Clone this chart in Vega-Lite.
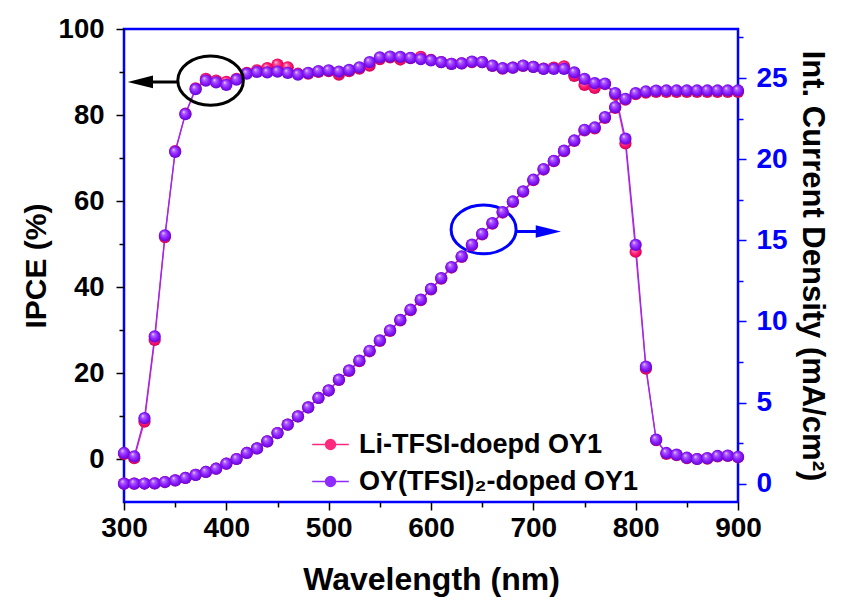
{
  "$schema": "https://vega.github.io/schema/vega-lite/v6.json",
  "width": 614,
  "height": 473,
  "autosize": {"type": "none"},
  "padding": {"left": 124, "top": 29, "right": 103, "bottom": 100},
  "background": "white",
  "config": {
    "font": "Liberation Sans",
    "view": {"stroke": "#0000ff", "strokeWidth": 2.5},
    "axis": {"domain": false, "grid": false, "labelFont": "Liberation Sans", "titleFont": "Liberation Sans", "labelFontWeight": "bold", "titleFontWeight": "bold", "labelColor": "black", "titleColor": "black", "tickColor": "black", "tickWidth": 1.5, "labelOverlap": false}
  },
  "datasets": {
    "main": [
      {"wl":300,"s":"Li-TFSI-doepd OY1","ipce":1.2,"jsc":0.0},
      {"wl":310,"s":"Li-TFSI-doepd OY1","ipce":0.2,"jsc":0.0},
      {"wl":320,"s":"Li-TFSI-doepd OY1","ipce":8.7,"jsc":0.01},
      {"wl":330,"s":"Li-TFSI-doepd OY1","ipce":27.7,"jsc":0.02},
      {"wl":340,"s":"Li-TFSI-doepd OY1","ipce":51.6,"jsc":0.1},
      {"wl":350,"s":"Li-TFSI-doepd OY1","ipce":71.6,"jsc":0.2},
      {"wl":360,"s":"Li-TFSI-doepd OY1","ipce":80.3,"jsc":0.35},
      {"wl":370,"s":"Li-TFSI-doepd OY1","ipce":86.2,"jsc":0.54},
      {"wl":380,"s":"Li-TFSI-doepd OY1","ipce":88.4,"jsc":0.72},
      {"wl":390,"s":"Li-TFSI-doepd OY1","ipce":88.0,"jsc":0.92},
      {"wl":400,"s":"Li-TFSI-doepd OY1","ipce":87.7,"jsc":1.23},
      {"wl":410,"s":"Li-TFSI-doepd OY1","ipce":88.4,"jsc":1.52},
      {"wl":420,"s":"Li-TFSI-doepd OY1","ipce":89.8,"jsc":1.89},
      {"wl":430,"s":"Li-TFSI-doepd OY1","ipce":90.4,"jsc":2.17},
      {"wl":440,"s":"Li-TFSI-doepd OY1","ipce":90.9,"jsc":2.61},
      {"wl":450,"s":"Li-TFSI-doepd OY1","ipce":91.7,"jsc":3.12},
      {"wl":460,"s":"Li-TFSI-doepd OY1","ipce":91.1,"jsc":3.64},
      {"wl":470,"s":"Li-TFSI-doepd OY1","ipce":89.6,"jsc":4.15},
      {"wl":480,"s":"Li-TFSI-doepd OY1","ipce":89.6,"jsc":4.7},
      {"wl":490,"s":"Li-TFSI-doepd OY1","ipce":90.0,"jsc":5.28},
      {"wl":500,"s":"Li-TFSI-doepd OY1","ipce":90.2,"jsc":5.74},
      {"wl":510,"s":"Li-TFSI-doepd OY1","ipce":89.4,"jsc":6.39},
      {"wl":520,"s":"Li-TFSI-doepd OY1","ipce":90.2,"jsc":6.95},
      {"wl":530,"s":"Li-TFSI-doepd OY1","ipce":90.8,"jsc":7.55},
      {"wl":540,"s":"Li-TFSI-doepd OY1","ipce":91.5,"jsc":8.16},
      {"wl":550,"s":"Li-TFSI-doepd OY1","ipce":93.0,"jsc":8.8},
      {"wl":560,"s":"Li-TFSI-doepd OY1","ipce":93.4,"jsc":9.42},
      {"wl":570,"s":"Li-TFSI-doepd OY1","ipce":92.9,"jsc":10.06},
      {"wl":580,"s":"Li-TFSI-doepd OY1","ipce":93.2,"jsc":10.69},
      {"wl":590,"s":"Li-TFSI-doepd OY1","ipce":93.5,"jsc":11.31},
      {"wl":600,"s":"Li-TFSI-doepd OY1","ipce":92.8,"jsc":11.97},
      {"wl":610,"s":"Li-TFSI-doepd OY1","ipce":92.3,"jsc":12.64},
      {"wl":620,"s":"Li-TFSI-doepd OY1","ipce":91.9,"jsc":13.32},
      {"wl":630,"s":"Li-TFSI-doepd OY1","ipce":92.0,"jsc":13.97},
      {"wl":640,"s":"Li-TFSI-doepd OY1","ipce":92.3,"jsc":14.7},
      {"wl":650,"s":"Li-TFSI-doepd OY1","ipce":92.3,"jsc":15.36},
      {"wl":660,"s":"Li-TFSI-doepd OY1","ipce":91.4,"jsc":16.03},
      {"wl":670,"s":"Li-TFSI-doepd OY1","ipce":90.8,"jsc":16.71},
      {"wl":680,"s":"Li-TFSI-doepd OY1","ipce":91.0,"jsc":17.36},
      {"wl":690,"s":"Li-TFSI-doepd OY1","ipce":91.4,"jsc":17.99},
      {"wl":700,"s":"Li-TFSI-doepd OY1","ipce":91.2,"jsc":18.7},
      {"wl":710,"s":"Li-TFSI-doepd OY1","ipce":90.8,"jsc":19.36},
      {"wl":720,"s":"Li-TFSI-doepd OY1","ipce":91.0,"jsc":19.87},
      {"wl":730,"s":"Li-TFSI-doepd OY1","ipce":91.3,"jsc":20.49},
      {"wl":740,"s":"Li-TFSI-doepd OY1","ipce":89.1,"jsc":21.12},
      {"wl":750,"s":"Li-TFSI-doepd OY1","ipce":87.0,"jsc":21.77},
      {"wl":760,"s":"Li-TFSI-doepd OY1","ipce":86.3,"jsc":21.9},
      {"wl":770,"s":"Li-TFSI-doepd OY1","ipce":87.2,"jsc":22.54},
      {"wl":780,"s":"Li-TFSI-doepd OY1","ipce":84.7,"jsc":23.16},
      {"wl":790,"s":"Li-TFSI-doepd OY1","ipce":73.4,"jsc":23.66},
      {"wl":800,"s":"Li-TFSI-doepd OY1","ipce":48.2,"jsc":24.0},
      {"wl":810,"s":"Li-TFSI-doepd OY1","ipce":21.0,"jsc":24.1},
      {"wl":820,"s":"Li-TFSI-doepd OY1","ipce":4.4,"jsc":24.15},
      {"wl":830,"s":"Li-TFSI-doepd OY1","ipce":1.2,"jsc":24.15},
      {"wl":840,"s":"Li-TFSI-doepd OY1","ipce":0.9,"jsc":24.15},
      {"wl":850,"s":"Li-TFSI-doepd OY1","ipce":0.2,"jsc":24.15},
      {"wl":860,"s":"Li-TFSI-doepd OY1","ipce":0.0,"jsc":24.15},
      {"wl":870,"s":"Li-TFSI-doepd OY1","ipce":0.1,"jsc":24.15},
      {"wl":880,"s":"Li-TFSI-doepd OY1","ipce":0.6,"jsc":24.15},
      {"wl":890,"s":"Li-TFSI-doepd OY1","ipce":0.7,"jsc":24.15},
      {"wl":900,"s":"Li-TFSI-doepd OY1","ipce":0.4,"jsc":24.15},
      {"wl":300,"s":"OY(TFSI)₂-doped OY1","ipce":1.4,"jsc":0.0},
      {"wl":310,"s":"OY(TFSI)₂-doped OY1","ipce":0.6,"jsc":0.0},
      {"wl":320,"s":"OY(TFSI)₂-doped OY1","ipce":9.5,"jsc":0.01},
      {"wl":330,"s":"OY(TFSI)₂-doped OY1","ipce":28.5,"jsc":0.02},
      {"wl":340,"s":"OY(TFSI)₂-doped OY1","ipce":52.0,"jsc":0.1},
      {"wl":350,"s":"OY(TFSI)₂-doped OY1","ipce":71.4,"jsc":0.2},
      {"wl":360,"s":"OY(TFSI)₂-doped OY1","ipce":80.2,"jsc":0.35},
      {"wl":370,"s":"OY(TFSI)₂-doped OY1","ipce":86.0,"jsc":0.54},
      {"wl":380,"s":"OY(TFSI)₂-doped OY1","ipce":88.0,"jsc":0.72},
      {"wl":390,"s":"OY(TFSI)₂-doped OY1","ipce":87.6,"jsc":0.92},
      {"wl":400,"s":"OY(TFSI)₂-doped OY1","ipce":87.0,"jsc":1.23},
      {"wl":410,"s":"OY(TFSI)₂-doped OY1","ipce":88.2,"jsc":1.52},
      {"wl":420,"s":"OY(TFSI)₂-doped OY1","ipce":89.6,"jsc":1.89},
      {"wl":430,"s":"OY(TFSI)₂-doped OY1","ipce":90.0,"jsc":2.17},
      {"wl":440,"s":"OY(TFSI)₂-doped OY1","ipce":89.9,"jsc":2.61},
      {"wl":450,"s":"OY(TFSI)₂-doped OY1","ipce":90.1,"jsc":3.12},
      {"wl":460,"s":"OY(TFSI)₂-doped OY1","ipce":89.8,"jsc":3.64},
      {"wl":470,"s":"OY(TFSI)₂-doped OY1","ipce":89.4,"jsc":4.15},
      {"wl":480,"s":"OY(TFSI)₂-doped OY1","ipce":89.8,"jsc":4.7},
      {"wl":490,"s":"OY(TFSI)₂-doped OY1","ipce":90.2,"jsc":5.28},
      {"wl":500,"s":"OY(TFSI)₂-doped OY1","ipce":90.4,"jsc":5.75},
      {"wl":510,"s":"OY(TFSI)₂-doped OY1","ipce":90.1,"jsc":6.41},
      {"wl":520,"s":"OY(TFSI)₂-doped OY1","ipce":90.5,"jsc":6.98},
      {"wl":530,"s":"OY(TFSI)₂-doped OY1","ipce":91.1,"jsc":7.58},
      {"wl":540,"s":"OY(TFSI)₂-doped OY1","ipce":92.3,"jsc":8.19},
      {"wl":550,"s":"OY(TFSI)₂-doped OY1","ipce":93.4,"jsc":8.83},
      {"wl":560,"s":"OY(TFSI)₂-doped OY1","ipce":93.6,"jsc":9.45},
      {"wl":570,"s":"OY(TFSI)₂-doped OY1","ipce":93.5,"jsc":10.09},
      {"wl":580,"s":"OY(TFSI)₂-doped OY1","ipce":93.3,"jsc":10.72},
      {"wl":590,"s":"OY(TFSI)₂-doped OY1","ipce":93.0,"jsc":11.34},
      {"wl":600,"s":"OY(TFSI)₂-doped OY1","ipce":92.7,"jsc":12.0},
      {"wl":610,"s":"OY(TFSI)₂-doped OY1","ipce":92.3,"jsc":12.67},
      {"wl":620,"s":"OY(TFSI)₂-doped OY1","ipce":91.9,"jsc":13.35},
      {"wl":630,"s":"OY(TFSI)₂-doped OY1","ipce":92.0,"jsc":14.0},
      {"wl":640,"s":"OY(TFSI)₂-doped OY1","ipce":92.4,"jsc":14.73},
      {"wl":650,"s":"OY(TFSI)₂-doped OY1","ipce":92.3,"jsc":15.39},
      {"wl":660,"s":"OY(TFSI)₂-doped OY1","ipce":91.5,"jsc":16.06},
      {"wl":670,"s":"OY(TFSI)₂-doped OY1","ipce":90.9,"jsc":16.74},
      {"wl":680,"s":"OY(TFSI)₂-doped OY1","ipce":91.0,"jsc":17.39},
      {"wl":690,"s":"OY(TFSI)₂-doped OY1","ipce":91.5,"jsc":18.02},
      {"wl":700,"s":"OY(TFSI)₂-doped OY1","ipce":91.2,"jsc":18.73},
      {"wl":710,"s":"OY(TFSI)₂-doped OY1","ipce":90.7,"jsc":19.39},
      {"wl":720,"s":"OY(TFSI)₂-doped OY1","ipce":90.7,"jsc":19.9},
      {"wl":730,"s":"OY(TFSI)₂-doped OY1","ipce":90.7,"jsc":20.52},
      {"wl":740,"s":"OY(TFSI)₂-doped OY1","ipce":89.9,"jsc":21.15},
      {"wl":750,"s":"OY(TFSI)₂-doped OY1","ipce":88.4,"jsc":21.81},
      {"wl":760,"s":"OY(TFSI)₂-doped OY1","ipce":87.4,"jsc":21.95},
      {"wl":770,"s":"OY(TFSI)₂-doped OY1","ipce":87.3,"jsc":22.59},
      {"wl":780,"s":"OY(TFSI)₂-doped OY1","ipce":85.1,"jsc":23.21},
      {"wl":790,"s":"OY(TFSI)₂-doped OY1","ipce":74.5,"jsc":23.72},
      {"wl":800,"s":"OY(TFSI)₂-doped OY1","ipce":49.8,"jsc":24.07},
      {"wl":810,"s":"OY(TFSI)₂-doped OY1","ipce":21.5,"jsc":24.17},
      {"wl":820,"s":"OY(TFSI)₂-doped OY1","ipce":4.5,"jsc":24.22},
      {"wl":830,"s":"OY(TFSI)₂-doped OY1","ipce":1.4,"jsc":24.23},
      {"wl":840,"s":"OY(TFSI)₂-doped OY1","ipce":1.0,"jsc":24.23},
      {"wl":850,"s":"OY(TFSI)₂-doped OY1","ipce":0.3,"jsc":24.23},
      {"wl":860,"s":"OY(TFSI)₂-doped OY1","ipce":0.0,"jsc":24.23},
      {"wl":870,"s":"OY(TFSI)₂-doped OY1","ipce":0.2,"jsc":24.23},
      {"wl":880,"s":"OY(TFSI)₂-doped OY1","ipce":0.7,"jsc":24.23},
      {"wl":890,"s":"OY(TFSI)₂-doped OY1","ipce":0.8,"jsc":24.23},
      {"wl":900,"s":"OY(TFSI)₂-doped OY1","ipce":0.5,"jsc":24.23}
    ]
  },
  "layer": [
    {
      "layer": [
        {
          "data": {"name": "main"},
          "mark": {"type": "line", "strokeWidth": 1.3},
          "encoding": {
            "x": {"field": "wl", "type": "quantitative", "scale": {"domain": [300, 900], "nice": false, "zero": false},
              "axis": {"values": [300,350,400,450,500,550,600,650,700,750,800,850,900], "labelExpr": "datum.value % 100 === 0 ? datum.label : ''", "tickSize": {"condition": {"test": "datum.value % 100 !== 0", "value": 5}, "value": 8}, "labelFontSize": 28, "labelPadding": 4, "labelFlush": false, "title": "Wavelength (nm)", "titleFontSize": 32, "titlePadding": 22}},
            "y": {"field": "ipce", "type": "quantitative", "scale": {"domain": [-10, 100], "nice": false, "zero": false},
              "axis": {"orient": "left", "values": [0,10,20,30,40,50,60,70,80,90,100], "labelExpr": "datum.value % 20 === 0 ? datum.label : ''", "tickSize": {"condition": {"test": "datum.value % 20 !== 0", "value": 5}, "value": 8}, "labelFontSize": 27.5, "labelPadding": 12, "title": "IPCE (%)", "titleFontSize": 30, "titlePadding": 7}},
            "color": {"field": "s", "type": "nominal",
              "scale": {"domain": ["Li-TFSI-doepd OY1", "OY(TFSI)₂-doped OY1"], "range": ["#ff2a7f", "#8f2bff"]},
              "legend": {"title": null, "orient": "none", "legendX": 187, "legendY": 396, "padding": 0,
                "symbolType": "M -1 0 L -0.27 0 M 0.27 0 L 1 0 M 0.27 0 A 0.27 0.27 0 1 1 -0.27 0 A 0.27 0.27 0 1 1 0.27 0 Z",
                "symbolSize": 1340, "symbolStrokeWidth": 1.5, "labelFontSize": 27, "labelFont": "Liberation Sans", "labelFontWeight": "bold", "labelColor": "black", "labelOffset": 9, "rowPadding": 4, "labelLimit": 400,
                "encode": {"symbols": {"update": {"fill": {"scale": "color", "field": "value"}, "stroke": {"scale": "color", "field": "value"}, "opacity": {"value": 1}}}}}
            }
          }
        },
        {
          "data": {"name": "main"},
          "mark": {"type": "point", "filled": true, "size": 150, "opacity": 1, "strokeWidth": 0},
          "encoding": {
            "x": {"field": "wl", "type": "quantitative", "scale": {"domain": [300, 900], "nice": false, "zero": false}},
            "y": {"field": "ipce", "type": "quantitative", "scale": {"domain": [-10, 100], "nice": false, "zero": false}},
            "fill": {
              "condition": {"test": "datum.s === 'Li-TFSI-doepd OY1'", "value": {"gradient": "radial", "x1": 0.35, "y1": 0.3, "r1": 0, "x2": 0.5, "y2": 0.5, "r2": 0.55, "stops": [{"offset": 0, "color": "#fff0f6"}, {"offset": 0.22, "color": "#ff64a4"}, {"offset": 0.6, "color": "#ff1470"}, {"offset": 1, "color": "#c8004f"}]}},
              "value": {"gradient": "radial", "x1": 0.35, "y1": 0.3, "r1": 0, "x2": 0.5, "y2": 0.5, "r2": 0.55, "stops": [{"offset": 0, "color": "#f8f0ff"}, {"offset": 0.22, "color": "#b366ff"}, {"offset": 0.6, "color": "#8a1cff"}, {"offset": 1, "color": "#5e00c8"}]}
            }
          }
        },
        {
          "data": {"values": [{"wl": 384.6, "ipce": 88.0}]},
          "mark": {"type": "point", "shape": "M -1 0 A 1 0.75 0 1 0 1 0 A 1 0.75 0 1 0 -1 0 Z", "size": 4300, "filled": false, "stroke": "black", "strokeWidth": 3, "opacity": 1},
          "encoding": {
            "x": {"field": "wl", "type": "quantitative", "scale": {"domain": [300, 900], "nice": false, "zero": false}},
            "y": {"field": "ipce", "type": "quantitative", "scale": {"domain": [-10, 100], "nice": false, "zero": false}}
          }
        },
        {
          "data": {"values": [{"wl": 651.4, "ipce": 53.4}]},
          "mark": {"type": "point", "shape": "M -1 0 A 1 0.75 0 1 0 1 0 A 1 0.75 0 1 0 -1 0 Z", "size": 4225, "filled": false, "stroke": "#0000ff", "strokeWidth": 3, "opacity": 1},
          "encoding": {
            "x": {"field": "wl", "type": "quantitative", "scale": {"domain": [300, 900], "nice": false, "zero": false}},
            "y": {"field": "ipce", "type": "quantitative", "scale": {"domain": [-10, 100], "nice": false, "zero": false}}
          }
        },
        {
          "data": {"values": [{"wl": 316, "wl2": 352.4, "ipce": 87.7}]},
          "mark": {"type": "rule", "color": "black", "strokeWidth": 3},
          "encoding": {
            "x": {"field": "wl", "type": "quantitative", "scale": {"domain": [300, 900], "nice": false, "zero": false}},
            "x2": {"field": "wl2"},
            "y": {"field": "ipce", "type": "quantitative", "scale": {"domain": [-10, 100], "nice": false, "zero": false}}
          }
        },
        {
          "data": {"values": [{"wl": 683.2, "wl2": 714.7, "ipce": 52.9}]},
          "mark": {"type": "rule", "color": "#0000ff", "strokeWidth": 3},
          "encoding": {
            "x": {"field": "wl", "type": "quantitative", "scale": {"domain": [300, 900], "nice": false, "zero": false}},
            "x2": {"field": "wl2"},
            "y": {"field": "ipce", "type": "quantitative", "scale": {"domain": [-10, 100], "nice": false, "zero": false}}
          }
        },
        {
          "data": {"values": [{"wl": 316, "ipce": 87.7}]},
          "mark": {"type": "point", "shape": "M -1 0 L 1 -0.5 L 1 0.5 Z", "size": 640, "filled": true, "fill": "black", "strokeWidth": 0, "opacity": 1},
          "encoding": {
            "x": {"field": "wl", "type": "quantitative", "scale": {"domain": [300, 900], "nice": false, "zero": false}},
            "y": {"field": "ipce", "type": "quantitative", "scale": {"domain": [-10, 100], "nice": false, "zero": false}}
          }
        },
        {
          "data": {"values": [{"wl": 714.7, "ipce": 52.9}]},
          "mark": {"type": "point", "shape": "M 1 0 L -1 -0.5 L -1 0.5 Z", "size": 640, "filled": true, "fill": "#0000ff", "strokeWidth": 0, "opacity": 1},
          "encoding": {
            "x": {"field": "wl", "type": "quantitative", "scale": {"domain": [300, 900], "nice": false, "zero": false}},
            "y": {"field": "ipce", "type": "quantitative", "scale": {"domain": [-10, 100], "nice": false, "zero": false}}
          }
        }
      ]
    },
    {
      "layer": [
        {
          "data": {"name": "main"},
          "mark": {"type": "line", "strokeWidth": 1.3},
          "encoding": {
            "x": {"field": "wl", "type": "quantitative", "scale": {"domain": [300, 900], "nice": false, "zero": false}},
            "y": {"field": "jsc", "type": "quantitative", "scale": {"domain": [-1.13, 28.02], "nice": false, "zero": false},
              "axis": {"orient": "right", "values": [0,2.5,5,7.5,10,12.5,15,17.5,20,22.5,25,27.5], "labelExpr": "datum.value % 5 === 0 ? datum.label : ''", "tickSize": {"condition": {"test": "datum.value % 5 !== 0", "value": 5}, "value": 8}, "tickColor": "#0000ff", "labelColor": "#0000ff", "labelFontSize": 28, "labelPadding": 10, "title": "Int. Current Density (mA/cm²)", "titleFontSize": 31, "titlePadding": 8, "titleColor": "black"}},
            "color": {"field": "s", "type": "nominal", "scale": {"domain": ["Li-TFSI-doepd OY1", "OY(TFSI)₂-doped OY1"], "range": ["#ff2a7f", "#8f2bff"]}}
          }
        },
        {
          "data": {"name": "main"},
          "mark": {"type": "point", "filled": true, "size": 150, "opacity": 1, "strokeWidth": 0},
          "encoding": {
            "x": {"field": "wl", "type": "quantitative", "scale": {"domain": [300, 900], "nice": false, "zero": false}},
            "y": {"field": "jsc", "type": "quantitative", "scale": {"domain": [-1.13, 28.02], "nice": false, "zero": false}},
            "fill": {
              "condition": {"test": "datum.s === 'Li-TFSI-doepd OY1'", "value": {"gradient": "radial", "x1": 0.35, "y1": 0.3, "r1": 0, "x2": 0.5, "y2": 0.5, "r2": 0.55, "stops": [{"offset": 0, "color": "#fff0f6"}, {"offset": 0.22, "color": "#ff64a4"}, {"offset": 0.6, "color": "#ff1470"}, {"offset": 1, "color": "#c8004f"}]}},
              "value": {"gradient": "radial", "x1": 0.35, "y1": 0.3, "r1": 0, "x2": 0.5, "y2": 0.5, "r2": 0.55, "stops": [{"offset": 0, "color": "#f8f0ff"}, {"offset": 0.22, "color": "#b366ff"}, {"offset": 0.6, "color": "#8a1cff"}, {"offset": 1, "color": "#5e00c8"}]}
            }
          }
        }
      ]
    }
  ],
  "resolve": {"scale": {"y": "independent"}}
}
